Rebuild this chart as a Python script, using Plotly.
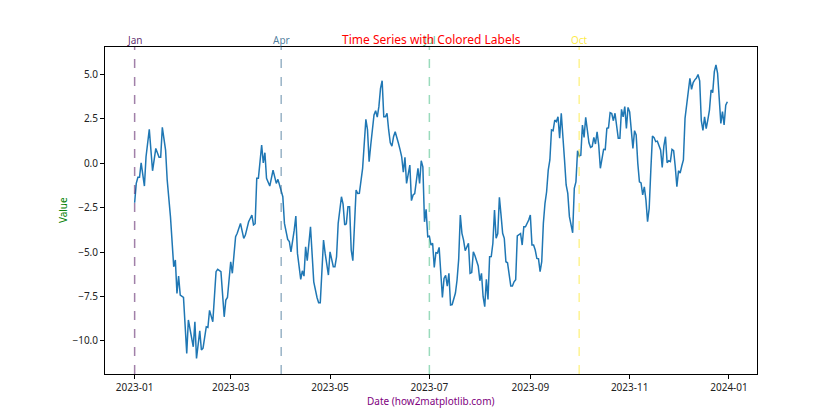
import pandas as pd
import plotly.graph_objects as go

# day offsets from 2023-01-01 and values
dias = [0, 1, 2, 3, 4, 6, 7, 9, 11, 13, 15, 16, 17, 19, 20, 22, 24, 25, 26, 27,
        28, 30, 32, 33, 36, 37, 38, 40, 41, 42, 44, 45, 46, 48, 50, 51, 53, 55, 56, 57,
        59, 60, 62, 63, 65, 67, 68, 70, 72, 73, 74, 75, 76, 78, 79, 80, 81, 83, 85, 87,
        88, 89, 91, 92, 94, 95, 96, 98, 99, 100, 102, 103, 104, 105, 106, 108, 109, 110, 112, 113,
        114, 116, 117, 119, 120, 122, 123, 124, 125, 127, 128, 129, 130, 131, 132, 133, 134, 136, 137, 138,
        140, 141, 142, 143, 144, 145, 147, 148, 149, 150, 151, 152, 153, 154, 155, 156, 157, 158, 159, 160,
        161, 162, 163, 164, 165, 166, 167, 168, 169, 170, 171, 172, 174, 175, 176, 177, 178, 179, 180, 181,
        182, 183, 184, 185, 186, 187, 188, 189, 190, 191, 192, 193, 194, 195, 197, 198, 199, 200, 201, 202,
        203, 204, 205, 206, 207, 208, 209, 211, 212, 213, 214, 215, 216, 217, 218, 219, 220, 221, 222, 223,
        224, 225, 226, 227, 228, 229, 230, 231, 232, 233, 234, 235, 237, 238, 239, 240, 242, 243, 244, 245,
        246, 247, 248, 249, 250, 251, 252, 253, 254, 255, 256, 257, 258, 259, 260, 261, 262, 263, 264, 265,
        266, 267, 268, 269, 270, 271, 272, 273, 274, 275, 276, 277, 278, 279, 280, 281, 282, 283, 284, 285,
        286, 287, 288, 289, 290, 291, 292, 293, 294, 295, 296, 297, 298, 299, 300, 301, 302, 303, 304, 305,
        306, 307, 308, 309, 310, 311, 312, 313, 314, 315, 316, 317, 318, 319, 320, 321, 322, 323, 324, 325,
        326, 327, 328, 329, 330, 331, 332, 333, 334, 335, 336, 337, 338, 339, 340, 341, 342, 343, 344, 345,
        346, 347, 348, 349, 350, 351, 352, 353, 354, 355, 356, 357, 358, 359, 360, 361, 362, 363, 364]

valores = [-2.22, -1.13, -0.79, -0.79, 0.03, -1.28, 0.37, 1.91, -0.42, 0.84, 0.34, 0.34, 2.03, 0.75, -0.94, -3.0, -5.82, -5.44, -7.32, -6.35,
           -7.42, -7.55, -10.7, -8.82, -10.33, -8.92, -10.98, -9.43, -10.51, -10.4, -9.2, -9.24, -8.28, -8.92, -6.1, -5.97, -6.1, -8.64, -7.7, -7.55,
           -5.54, -6.19, -4.13, -3.94, -3.38, -4.22, -4.04, -3.29, -2.91, -3.47, -3.4, -0.84, -0.84, 1.03, 0.03, 0.6, -0.84, -1.28, -0.38, -1.13,
           -0.9, -1.2, -1.88, -3.38, -4.28, -4.4, -4.98, -3.76, -2.97, -5.07, -6.53, -6.05, -6.35, -4.7, -5.48, -3.57, -5.26, -6.67, -7.55, -7.85,
           -7.85, -4.32, -5.07, -6.29, -4.98, -5.82, -5.82, -5.26, -3.38, -1.88, -2.3, -3.47, -3.4, -2.44, -2.44, -4.88, -5.48, -1.5, -1.7, -1.69,
           -0.28, 1.31, 2.48, 1.9, 0.09, 1.03, 2.72, 2.96, 2.6, 3.19, 4.22, 4.65, 2.62, 2.62, 2.82, 1.88, 1.16, 0.97, 1.5, 1.78,
           1.5, 1.13, 0.77, 0.37, -0.5, 0.34, -1.13, -0.5, -0.1, -2.1, -1.78, -1.7, -0.28, -1.13, 0.15, -0.2, -3.29, -2.59, -4.13, -4.1,
           -4.6, -4.5, -5.86, -5.03, -5.05, -4.73, -6.38, -7.55, -6.48, -6.3, -6.91, -6.19, -7.98, -7.95, -7.3, -6.57, -5.41, -2.91, -3.94, -4.32,
           -4.92, -4.75, -4.5, -6.19, -6.15, -4.98, -5.2, -5.78, -6.61, -6.19, -7.51, -8.07, -6.53, -7.66, -5.26, -5.25, -4.5, -2.63, -4.22, -3.95,
           -1.91, -2.9, -3.94, -4.22, -5.54, -5.6, -6.38, -6.91, -6.91, -6.67, -6.55, -4.09, -3.95, -4.6, -3.57, -3.57, -3.19, -2.91, -4.6, -4.6,
           -4.88, -5.35, -5.37, -6.1, -5.54, -3.38, -2.25, -1.6, -0.38, 0.19, 1.88, 1.84, 2.44, 2.35, 2.62, 1.41, 2.82, 1.22, 0.19, -1.22,
           -1.69, -3.0, -3.57, -3.91, -1.41, -1.04, 0.71, 0.41, 0.45, 2.16, 1.46, 2.59, 1.88, 1.16, 0.9, 0.95, 1.46, 1.09, 1.78, 1.03,
           -0.28, 0.37, 0.79, 0.77, 1.97, 2.0, 2.85, 2.8, 2.4, 2.82, 1.97, 1.41, 1.41, 3.04, 2.62, 3.19, 1.97, 3.15, 2.9, 1.97,
           0.84, 1.84, 1.6, 0.0, -1.04, -1.1, -1.78, -1.32, -2.07, -3.29, -2.53, -0.38, 1.54, 1.45, 1.22, 1.25, 1.03, 0.75, -0.23, 0.97,
           1.5, 0.03, 0.15, 0.1, 0.79, 0.72, -0.19, -1.32, -0.42, -0.55, -0.15, 0.19, 2.53, 3.28, 4.13, 4.79, 4.17, 4.55, 4.7, 4.8,
           5.0, 4.65, 2.4, 1.85, 2.62, 1.95, 2.45, 3.0, 4.13, 3.98, 5.16, 5.54, 5.07, 3.75, 2.25, 2.91, 2.16, 3.28, 3.47]

meses = ['2023-01-01', '2023-04-01', '2023-07-01', '2023-10-01']
etiquetas_mes = ['Jan', 'Apr', 'Jul', 'Oct']
colores_mes = ['#440154', '#31688e', '#35b779', '#fde725']

y_ticks = [-10.0, -7.5, -5.0, -2.5, 0.0, 2.5, 5.0]
x_ticks = ['2023-01-01', '2023-03-01', '2023-05-01', '2023-07-01', '2023-09-01', '2023-11-01', '2024-01-01']

inicio = pd.Timestamp('2023-01-01')
fechas = inicio + pd.to_timedelta(dias, unit='D')

fig = go.Figure()
fig.add_trace(go.Scatter(
    x= fechas,
    y= valores,
    mode= 'lines',
    line= dict(color= '#1f77b4', width=1.5),
    showlegend= False
))

def rgba(hex_color, alpha):
    h = hex_color.lstrip('#')
    r, g, b = int(h[0:2], 16), int(h[2:4], 16), int(h[4:6], 16)
    return f'rgba({r},{g},{b},{alpha})'

for fecha, texto, color in zip(meses, etiquetas_mes, colores_mes):
    fig.add_shape(
        type= 'line', xref= 'x', yref= 'paper',
        x0= fecha, x1= fecha, y0=0, y1=1,
        line= dict(color= rgba(color, 0.5), width=1.5, dash= 'dash')
    )
    fig.add_annotation(
        x= fecha, y=1, xref= 'x', yref= 'paper',
        text= texto, showarrow= False,
        yanchor= 'bottom', yshift=-2,
        font= dict(color= rgba(color, 0.85), size=10)
    )

# matplotlib style 5% margins
pad = pd.Timedelta(days=18.2)
x_min = fechas.min() - pad
x_max = fechas.max() + pad

fig.add_annotation(
    x=0.5, y=1, xref= 'paper', yref= 'paper',
    text= 'Time Series with Colored Labels', showarrow= False,
    yanchor= 'bottom', yshift=-3,
    font= dict(color= 'red', size=12)
)
fig.add_annotation(
    x=0.5, y=-0.083, xref= 'paper', yref= 'paper',
    text= 'Date (how2matplotlib.com)', showarrow= False,
    yanchor= 'middle',
    font= dict(color= 'purple', size=10)
)
fig.add_annotation(
    x=-0.065, y=0.5, xref= 'paper', yref= 'paper',
    text= 'Value', showarrow= False, textangle=-90,
    xanchor= 'center',
    font= dict(color= 'green', size=10)
)

# the page body adds 8px, so margins are 8px smaller on the left/top
fig.update_layout(
    width=840, height=420,
    margin= dict(l=97, r=91, t=39, b=54),
    plot_bgcolor= 'white',
    paper_bgcolor= 'white',
    font= dict(family= 'Noto Sans', color= '#222222', size=10),
)
fig.update_xaxes(
    range= [x_min, x_max],
    tickvals= x_ticks,
    tickformat= '%Y-%m',
    showgrid= False, zeroline= False,
    showline= True, mirror= True, linecolor= 'black', linewidth=1,
    ticks= 'outside', ticklen=4, tickcolor= 'black', tickwidth=1,
    tickfont= dict(size=10, color= '#222222')
)
fig.update_yaxes(
    range= [-11.86, 6.55],
    tickvals= y_ticks,
    ticktext= [f'{v:.1f}'.replace('-', '\u2212') for v in y_ticks],
    showgrid= False, zeroline= False,
    showline= True, mirror= True, linecolor= 'black', linewidth=1,
    ticks= 'outside', ticklen=4, tickcolor= 'black', tickwidth=1,
    tickfont= dict(size=10, color= '#222222')
)

fig.write_html('out.html')
